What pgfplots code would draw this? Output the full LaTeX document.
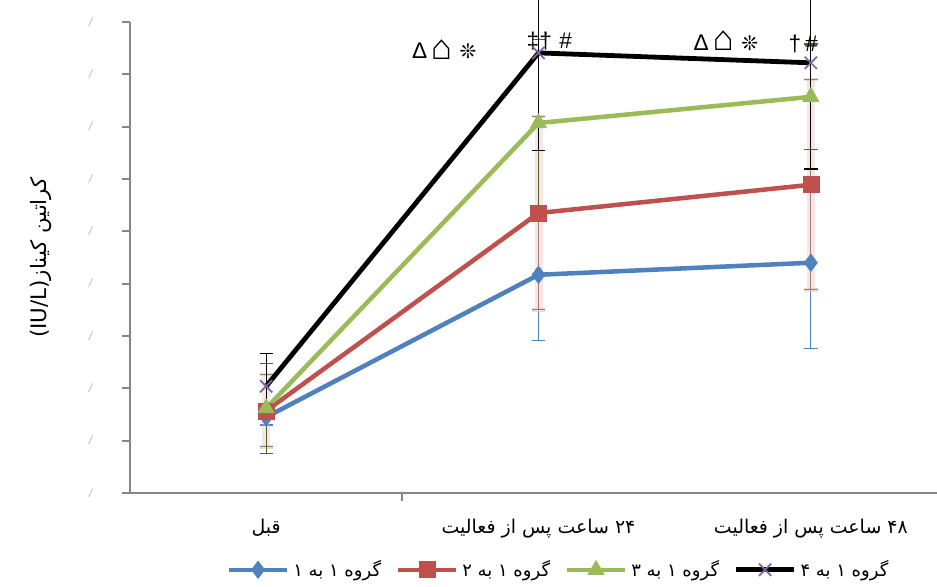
\documentclass[border=0pt]{standalone}
\usepackage{fontspec}
\usepackage{graphicx}
\usepackage{pgfplots}
\pgfplotsset{compat=1.18}
\setmainfont{Liberation Sans}
\newfontfamily\arabicfont[Script=Arabic]{DejaVu Sans}
\newfontfamily\symfont{DejaVu Sans}
\newfontfamily\lsfont{Liberation Sans}
\TeXXeTstate=1
\definecolor{cblue}{HTML}{4F81BD}
\definecolor{cred}{HTML}{C0504D}
\definecolor{cgreen}{HTML}{9BBB59}
\definecolor{cpurple}{HTML}{8064A2}
\definecolor{cgreendark}{HTML}{4F6228}
\definecolor{caxis}{HTML}{868686}
\definecolor{cpink}{HTML}{E6B9B8}
\definecolor{credbar}{HTML}{9C7B7A}
\newcommand{\house}{\raisebox{-0.5pt}{\scalebox{1.55}{⌂}}}
\begin{document}
\begin{tikzpicture}
\useasboundingbox (-97.5pt,-69.75pt) rectangle (605.25pt,369.75pt);
\clip (-97.5pt,-69.75pt) rectangle (605.25pt,369.75pt);
\begin{axis}[
  scale only axis,
  width=612.75pt, height=353.25pt,
  xmin=-0.5, xmax=2.5, ymin=0, ymax=9,
  clip=false,
  axis lines*=left,
  axis line style={draw=caxis, line width=1.5pt},
  tick style={draw=caxis, line width=1.5pt},
  tick align=outside,
  major tick length=6pt,
  ytick={0,1,2,3,4,5,6,7,8,9},
  yticklabel={\textit{/}},
  yticklabel style={text=gray!55, font=\small, xshift=-18pt},
  xtick={0.5},
  xticklabels={},
  extra x ticks={0,1,2},
  extra x tick labels={\beginR قبل\endR, \beginR\beginL ۲۴\endL{} ساعت پس از فعالیت\endR, \beginR\beginL ۴۸\endL{} ساعت پس از فعالیت\endR},
  extra x tick style={major tick length=0pt, tick style={draw=none}},
  xticklabel style={font=\arabicfont\fontsize{14.2}{16}\selectfont, yshift=-16pt},
  ylabel={\arabicfont\beginR کراتین کیناز\beginL(IU/L)\endL\endR},
  every axis y label/.style={at={(axis description cs:0,0.5)}, xshift=-67pt, rotate=90, anchor=center, font=\fontsize{16}{18}\selectfont},
  legend columns=4,
  legend style={at={(0.525,-0.163)}, anchor=center, draw=none, fill=none,
    font=\arabicfont\fontsize{13.5}{15}\selectfont,
    /tikz/every even column/.append style={column sep=9pt},
    /tikz/every odd column/.append style={column sep=1pt}},
  legend image code/.code={\draw[mark repeat=2,mark phase=2,#1] plot coordinates {(0pt,0pt) (21.75pt,0pt) (43.5pt,0pt)};},
  error bars/error mark=-,
]
% Blue
\addplot[cblue, line width=3.4pt, mark=diamond*, mark size=6.5pt, mark options={fill=cblue, draw=cblue, line width=0.5pt},
  error bars/.cd, y dir=both, y explicit,
  error bar style={line width=0.8pt, draw=cblue},
  error mark options={rotate=90, draw=cblue, line width=0.8pt, mark size=5pt}]
  coordinates {(0,1.45) +- (0,0.15) (1,4.17) +- (0,1.26) (2,4.40) +- (0,1.64)};
\addlegendentry{\beginR گروه ۱ به ۱\endR}
% Red error bars (pink halo)
\addplot[draw=none, forget plot,
  error bars/.cd, y dir=both, y explicit,
  error bar style={line width=6pt, draw=cpink, opacity=0.35},
  error mark options={rotate=90, draw=cpink, opacity=0.5, line width=2.5pt, mark size=5pt}]
  coordinates {(0,1.57) +- (0,0.69) (1,5.35) +- (0,1.85) (2,5.89) +- (0,2.01)};
% Red
\addplot[cred, line width=3.4pt, mark=square*, mark size=6pt, mark options={fill=cred, draw=cred, line width=0.5pt},
  error bars/.cd, y dir=both, y explicit,
  error bar style={line width=0.8pt, draw=credbar},
  error mark options={rotate=90, draw=credbar, line width=0.8pt, mark size=5pt}]
  coordinates {(0,1.57) +- (0,0.69) (1,5.35) +- (0,1.85) (2,5.89) +- (0,2.01)};
\addlegendentry{\beginR گروه ۱ به ۲\endR}
% Green
\addplot[cgreen, line width=3.4pt, mark=triangle*, mark size=7pt, mark options={fill=cgreen, draw=cgreen, line width=0.5pt},
  error bars/.cd, y dir=both, y explicit,
  error bar style={line width=0.8pt, draw=cgreendark},
  error mark options={rotate=90, draw=cgreendark, line width=0.8pt, mark size=5pt}]
  coordinates {(0,1.62) +- (0,0.86) (1,7.07) +- (0,1.59) (2,7.57) +- (0,1.01)};
\addlegendentry{\beginR گروه ۱ به ۳\endR}
% Black
\addplot[black, line width=3.6pt, mark=x, mark size=6.5pt, mark options={draw=cpurple, line width=1.3pt},
  error bars/.cd, y dir=both, y explicit,
  error bar style={line width=0.9pt, draw=black},
  error mark options={rotate=90, draw=black, line width=0.9pt, mark size=5pt}]
  coordinates {(0,2.04) +- (0,0.63) (1,8.41) +- (0,1.87) (2,8.22) +- (0,2.03)};
\addlegendentry{\beginR گروه ۱ به ۴\endR}
% significance annotations
\node[font=\lsfont\fontsize{17}{19}\selectfont] at (axis cs:0.654,8.47) {Δ\,\house\,\,{\symfont\fontsize{15}{17}\selectfont ❊}};
\node[font=\lsfont\fontsize{17}{19}\selectfont] at (axis cs:1.040,8.64) {‡†\,\,\#};
\node[font=\lsfont\fontsize{17}{19}\selectfont] at (axis cs:1.688,8.64) {Δ\,\house\,\,{\symfont\fontsize{15}{17}\selectfont ❊}};
\node[font=\lsfont\fontsize{17}{19}\selectfont] at (axis cs:1.972,8.58) {†\,\#};
\end{axis}
\end{tikzpicture}
\end{document}
